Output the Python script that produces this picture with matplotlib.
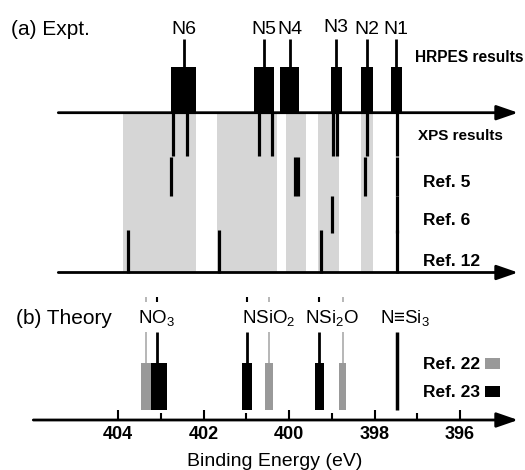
import matplotlib
matplotlib.use('Agg')
import matplotlib.pyplot as plt
from matplotlib.transforms import blended_transform_factory

plt.rcParams['font.family'] = ['Liberation Sans', 'DejaVu Sans']
plt.rcParams['mathtext.default'] = 'regular'

# ---- data (binding energies in eV) ----
hrpes_labels = ['N6', 'N5', 'N4', 'N3', 'N2', 'N1']
hrpes_be     = [402.47, 400.59, 399.99, 398.90, 398.18, 397.49]
hrpes_fwhm   = [0.57, 0.45, 0.44, 0.26, 0.27, 0.26]

xps_be   = [402.73, 402.38, 400.70, 400.39, 398.98, 398.87, 398.17, 397.48]
ref5_be  = [402.76, 399.86, 399.79, 398.22, 397.48]
ref6_be  = [399.00, 397.48]
ref12_be = [403.77, 401.64, 399.26, 397.48]

shade_hi = [403.90, 401.70, 400.07, 399.33, 398.32]
shade_lo = [402.18, 400.29, 399.61, 398.83, 398.04]

theory_labels = ['NO$_3$', 'NSiO$_2$', 'NSi$_2$O', 'N≡Si$_3$']
ref22_be = [403.35, 400.47, 398.75]
ref22_w  = [0.23, 0.19, 0.16]
ref23_be = [403.10, 400.98, 399.29, 397.48]
ref23_w  = [0.47, 0.23, 0.19, 0.0]

major_ticks = [404, 402, 400, 398, 396]
minor_ticks = [403, 401, 399, 397]

# ---- layout (pixel rows, image is 525 x 470) ----
W, H = 525, 470
PX_PER_EV = 42.71
X404 = 118.3


def px2ev(px):
    return 404 - (px - X404) / PX_PER_EV


GRAY_BG = '#d6d6d6'
GRAY_BAR = '#999999'
GRAY_STEM = '#aaaaaa'

fig = plt.figure(figsize=(W / 100, H / 100), dpi=100)
ax = fig.add_axes([0, 0, 1, 1])
ax.set_xlim(px2ev(0), px2ev(W))
ax.set_ylim(H, 0)
ax.patch.set_alpha(0)
for s in ['left', 'right', 'top', 'bottom']:
    ax.spines[s].set_visible(False)
ax.set_yticks([])
trans = blended_transform_factory(ax.transAxes, ax.transData)


def axis_arrow(y, x0_px):
    ax.annotate('', xy=(px2ev(518), y), xytext=(px2ev(x0_px), y),
                arrowprops=dict(arrowstyle='-|>,head_length=1.3,head_width=0.45',
                                mutation_scale=10, lw=2, color='k',
                                shrinkA=0, shrinkB=0), zorder=5)


# ---- panel (a) ----
Y_TOP, Y_MID = 112.7, 272.5
for lo, hi in zip(shade_lo, shade_hi):
    ax.fill_betweenx([Y_TOP, Y_MID], lo, hi, color=GRAY_BG, lw=0, zorder=0)

axis_arrow(Y_TOP, 58.3)
axis_arrow(Y_MID, 58.3)

ax.bar(hrpes_be, 46, width=hrpes_fwhm, bottom=66.7, color='k', zorder=3)
ax.vlines(hrpes_be, 39, 66.7, color='k', lw=2)
for lab, e in zip(hrpes_labels, hrpes_be):
    yb = 31.5 if lab == 'N3' else 33.5
    ax.text(e, yb, lab, ha='center', va='baseline', fontsize=14)

ax.vlines(xps_be, Y_TOP, 155.5, color='k', lw=2.3, zorder=3)
ax.vlines(ref5_be, 157, 195.5, color='k', lw=2.3, zorder=3)
ax.vlines(ref6_be, 195.5, 233, color='k', lw=2.3, zorder=3)
ax.vlines(ref12_be, 230, Y_MID, color='k', lw=2.3, zorder=3)

ax.text(11 / W, 35, '(a) Expt.', transform=trans, fontsize=15, va='baseline')
ax.text(415 / W, 61.7, 'HRPES results', transform=trans, fontsize=11.2,
        fontweight='bold', va='baseline')
ax.text(418.3 / W, 140, 'XPS results', transform=trans, fontsize=11,
        fontweight='bold', va='baseline')
for lab, yb in zip(['Ref. 5', 'Ref. 6', 'Ref. 12'], [187.3, 225, 266]):
    ax.text(422.7 / W, yb, lab, transform=trans, fontsize=12.5,
            fontweight='bold', va='baseline')

# ---- panel (b) ----
Y_BOT = 420
BOX_TOP, BOX_BOT = 363, 410
STEM_TOP = 331.7

axis_arrow(Y_BOT, 33.3)

# black (Ref. 23) first, gray (Ref. 22) drawn on top
for e, w in zip(ref23_be, ref23_w):
    if w > 0:
        ax.bar(e, BOX_BOT - BOX_TOP, width=w, bottom=BOX_TOP, color='k', zorder=3)
        ax.vlines(e, STEM_TOP, BOX_TOP, color='k', lw=2)
        ax.vlines(e, 296.7, 301.7, color='k', lw=1.5)
    else:
        ax.vlines(e, STEM_TOP, BOX_BOT, color='k', lw=2.5)
for e, w in zip(ref22_be, ref22_w):
    ax.bar(e, BOX_BOT - BOX_TOP, width=w, bottom=BOX_TOP, color=GRAY_BAR, zorder=4)
    ax.vlines(e, STEM_TOP, BOX_TOP, color=GRAY_STEM, lw=1.2)
    ax.vlines(e, 296.7, 301.7, color=GRAY_STEM, lw=1.2)

for lab, xpx in zip(theory_labels, [138.3, 241.7, 305, 380]):
    ax.text(xpx / W, 323.5, lab, transform=trans, fontsize=13.5, va='baseline')

ax.text(16 / W, 324, '(b) Theory', transform=trans, fontsize=15, va='baseline')

ax.text(422.7 / W, 369.3, 'Ref. 22', transform=trans, fontsize=12.5,
        fontweight='bold', va='baseline')
ax.text(422.7 / W, 397.3, 'Ref. 23', transform=trans, fontsize=12.5,
        fontweight='bold', va='baseline')
ax.bar(px2ev(492.5), 11.6, width=15 / PX_PER_EV, bottom=357.7, color=GRAY_BAR)
ax.bar(px2ev(492.5), 11.3, width=15 / PX_PER_EV, bottom=386, color='k')

# energy axis ticks
ax.spines['bottom'].set_position(('data', Y_BOT))
ax.set_xticks(major_ticks)
ax.set_xticks(minor_ticks, minor=True)
ax.tick_params(axis='x', which='major', direction='in', length=7.2, width=1.5,
               labelsize=13, pad=4)
ax.tick_params(axis='x', which='minor', direction='in', length=5, width=1.5)
for t in ax.get_xticklabels():
    t.set_fontweight('bold')
ax.text(275 / W, 466, 'Binding Energy (eV)', transform=trans, fontsize=14,
        ha='center', va='baseline')

fig.savefig('out.png', dpi=100)
